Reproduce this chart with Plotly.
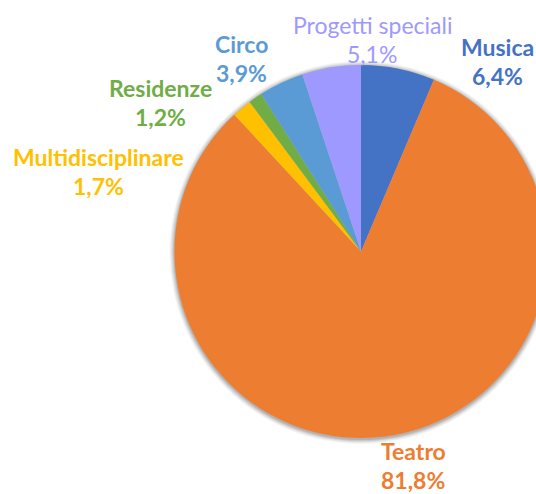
import plotly.graph_objects as go

categories = ["Musica", "Teatro", "Multidisciplinare", "Residenze", "Circo", "Progetti speciali"]
values = [6.4, 81.8, 1.7, 1.2, 3.9, 5.1]
pct_labels = ["6,4%", "81,8%", "1,7%", "1,2%", "3,9%", "5,1%"]
colors = ["#4472C4", "#ED7D31", "#FFC000", "#70AD47", "#5B9BD5", "#9E99FF"]

# ---- layout (pixels) ----
VIEW_W = 536           # visible window width; the pie is cropped at the right like the reference
W, H = 560, 494
CX, CY, R = 361, 251.5, 186.5
label_pos = [(497, 47), (413, 451), (98, 157), (160, 88), (241, 44), (372, 25)]
bold = [True, True, True, True, True, False]
LINE_GAP = 29
FONT = "Lato"
FONT_SIZE = 23


def px_x(x):
    return x / W


def px_y(y):
    return 1 - y / H


fig = go.Figure()
fig.add_trace(go.Pie(
    labels=categories,
    values=values,
    sort=False,
    direction="clockwise",
    rotation=0,
    marker=dict(colors=colors, line=dict(width=0)),
    textinfo="none",
    hoverinfo="label+percent",
    showlegend=False,
    domain=dict(x=[px_x(CX - R), px_x(CX + R)], y=[px_y(CY + R), px_y(CY - R)]),
))

# soft shadow behind the pie
shapes = []
for k, op in [(5, 0.04), (4, 0.05), (3, 0.06), (2, 0.08), (1, 0.10)]:
    shapes.append(dict(
        type="circle", xref="paper", yref="paper", layer="below",
        x0=px_x(CX - R - k), x1=px_x(CX + R + k),
        y0=px_y(CY + 1 + R + k), y1=px_y(CY + 1 - R - k),
        fillcolor=f"rgba(0,0,0,{op})", line=dict(width=0),
    ))

annotations = []
for name, pct, col, (px, py), b in zip(categories, pct_labels, colors, label_pos, bold):
    for i, txt in enumerate([name, pct]):
        t = f"<b>{txt}</b>" if b else txt
        annotations.append(dict(
            x=px_x(px), y=px_y(py + i * LINE_GAP), xref="paper", yref="paper",
            text=t, showarrow=False, xanchor="center", yanchor="middle",
            font=dict(family=FONT, size=FONT_SIZE, color=col),
        ))

fig.update_layout(
    width=W, height=H,
    margin=dict(l=0, r=0, t=0, b=0),
    paper_bgcolor="white",
    plot_bgcolor="white",
    shapes=shapes,
    annotations=annotations,
)

fig.write_html(
    "out.html",
    config={"displayModeBar": False},
    post_script=(
        "document.body.style.margin='0';"
        "document.body.style.overflow='hidden';"
        "document.documentElement.style.overflow='hidden';"
    ),
)
